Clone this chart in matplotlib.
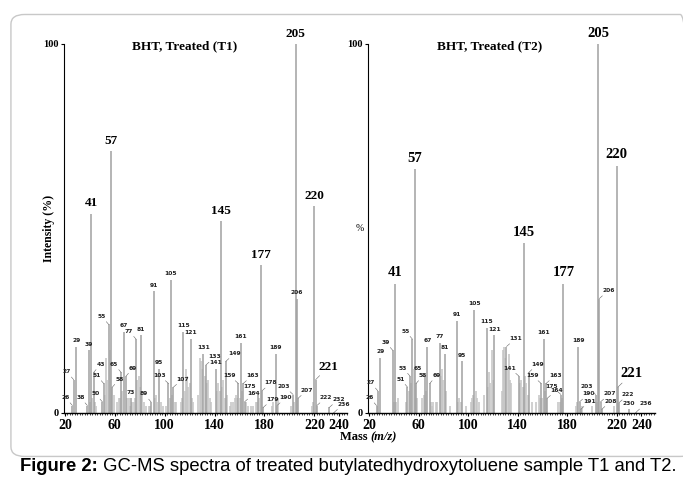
import matplotlib.pyplot as plt
from matplotlib.patches import FancyBboxPatch
from matplotlib.ticker import MultipleLocator

# labelled peaks (m/z, relative intensity %) for each sample
t1_mz = [26, 27, 29, 38, 39, 41, 43, 50, 51, 55, 57, 58, 65, 67, 69, 73, 77, 81,
         89, 91, 95, 103, 105, 107, 115, 121, 131, 133, 141, 145, 149, 159, 161,
         163, 164, 175, 177, 178, 179, 189, 190, 203, 205, 206, 207, 220, 221,
         222, 232, 236]
t1_int = [2, 9, 18, 2, 17, 54, 11, 3, 8, 24, 71, 7, 11, 22, 10, 4, 20, 21,
          3, 33, 12, 8, 36, 7, 22, 20, 16, 13, 12, 52, 14, 8, 19,
          8, 3, 5, 40, 6, 1.5, 16, 2, 5, 100, 31, 4, 56, 9,
          2, 1.5, 0.2]

t2_mz = [26, 27, 29, 39, 41, 51, 53, 55, 57, 58, 65, 67, 69, 77, 81, 91, 95,
         105, 115, 121, 131, 141, 145, 149, 159, 161, 163, 164, 175, 177, 189,
         190, 191, 203, 205, 206, 207, 208, 220, 221, 222, 230, 236]
t2_int = [2, 6, 15, 17, 35, 7, 10, 20, 66, 8, 10, 18, 8, 19, 16, 25, 14,
          28, 23, 21, 18, 10, 46, 11, 8, 20, 8, 4, 5, 35, 18,
          3, 1, 5, 100, 31, 3, 1, 67, 7, 2.8, 1.0, 0.3]

# unlabelled minor peaks
t1_minor_mz = [40, 42, 44, 45, 52, 53, 54, 56, 59, 62, 63, 64, 66, 70, 71, 72,
               74, 75, 76, 78, 79, 80, 82, 83, 85, 87, 88, 92, 93, 94, 97, 99,
               101, 104, 106, 108, 109, 113, 114, 116, 117, 118, 119, 120, 122,
               123, 127, 128, 129, 130, 132, 134, 135, 136, 137, 142, 143, 144,
               146, 147, 148, 150, 152, 153, 155, 156, 157, 158, 160, 162, 165,
               167, 169, 171, 173, 174, 176, 186, 187, 191, 201, 204, 218, 219]
t1_minor_int = [3, 4, 3, 2, 5, 15, 9, 17, 5, 3, 4, 4, 6, 4, 4, 2,
                3, 3, 4, 9, 10, 7, 5, 3, 2, 2, 2, 4, 5, 3, 3, 2,
                2, 4, 5, 3, 3, 3, 4, 6, 12, 10, 7, 8, 4,
                3, 5, 15, 14, 12, 10, 8, 9, 4, 3, 6, 8, 6,
                7, 9, 4, 5, 2, 3, 3, 4, 5, 4, 4, 6, 3,
                2, 2, 2, 3, 3, 4, 2, 3, 4, 2, 3, 2, 3]

t2_minor_mz = [40, 42, 43, 50, 52, 54, 56, 59, 63, 64, 66, 70, 71, 72, 74, 75,
               78, 79, 80, 82, 85, 92, 93, 94, 98, 102, 103, 104, 106, 107, 109,
               113, 116, 117, 118, 119, 120, 127, 128, 129, 130, 132, 133, 134,
               135, 142, 143, 144, 146, 147, 148, 152, 155, 157, 158, 160, 162,
               173, 174, 176, 187, 188, 192, 200, 204, 218]
t2_minor_int = [3, 3, 4, 3, 6, 8, 12, 4, 4, 5, 6, 3, 2, 3, 3, 3,
                10, 12, 9, 6, 2, 3, 4, 3, 2, 3, 4, 5, 6, 4, 3,
                5, 7, 11, 8, 17, 9, 6, 17, 18, 15, 12, 16, 9,
                8, 8, 9, 7, 10, 8, 5, 3, 3, 5, 4, 4, 6,
                3, 3, 4, 2, 3, 2, 2, 3, 2]

big_labels = [41, 57, 145, 177, 205, 220]
# where the small labels sit relative to their peak
t1_above = [29, 39, 67, 73, 81, 91, 95, 105, 115, 121, 131, 141, 161, 189, 206]
t1_right = [43, 58, 69, 107, 133, 149, 163, 164, 178, 179, 190, 207, 221,
            222, 232, 236]
t2_above = [29, 67, 77, 81, 91, 95, 105, 115, 121, 161, 189, 230]
t2_right = [58, 69, 131, 149, 163, 164, 190, 191, 206, 207, 208, 221, 222, 236]

x_ticks = [20, 60, 100, 140, 180, 220, 240]

serif = 'Liberation Serif'
fig = plt.figure(figsize=(6.83, 4.83), dpi=100)

# rounded frame around the figure
fig.patches.append(FancyBboxPatch((0.016, 0.055), 1.0, 0.915,
                                  boxstyle='round,pad=0,rounding_size=0.02',
                                  transform=fig.transFigure, fc='none',
                                  ec='#c8c8c8', lw=1.0))

leader = dict(arrowstyle='-', lw=0.4, color='#666666', shrinkA=0, shrinkB=0)
small = dict(fontsize=4.3, fontweight='bold', color='#222222')


def draw_panel(ax, mz, inten, minor_mz, minor_int, above, right_side,
               title, big_fs, pct=False):
    ax.vlines(minor_mz, 0, minor_int, color='#c4c4c4', lw=1.1)
    ax.vlines(mz, 0, inten, color='#a0a0a0', lw=1.1)
    for m, h in zip(mz, inten):
        if m in big_labels:
            ax.text(m, h + 1.2, str(m), ha='center', va='bottom', fontsize=big_fs,
                    fontweight='bold', family=serif, clip_on=False)
        elif m == 221:
            ax.annotate(str(m), xy=(m, h), xytext=(2, 5), textcoords='offset points',
                        ha='left', va='bottom', fontsize=big_fs,
                        fontweight='bold', family=serif, arrowprops=leader)
        elif m in above:
            ax.text(m, h + 1.0, str(m), ha='center', va='bottom', **small)
        elif m in right_side:
            ax.annotate(str(m), xy=(m, h), xytext=(2, 4), textcoords='offset points',
                        ha='left', va='bottom', arrowprops=leader, **small)
        else:
            ax.annotate(str(m), xy=(m, h), xytext=(-2, 4), textcoords='offset points',
                        ha='right', va='bottom', arrowprops=leader, **small)
    ax.set_ylim(0, 100)
    ax.spines['top'].set_visible(False)
    ax.spines['right'].set_visible(False)
    ax.spines['left'].set_linewidth(0.8)
    ax.spines['bottom'].set_linewidth(1.0)
    ax.set_xticks(x_ticks)
    ax.set_xticklabels([str(t) for t in x_ticks], fontsize=10, fontweight='bold',
                       family=serif)
    ax.xaxis.set_minor_locator(MultipleLocator(2))
    ax.tick_params(axis='x', which='major', length=2, pad=2)
    ax.tick_params(axis='x', which='minor', length=1.5, width=0.5)
    ax.set_yticks([0, 100])
    ax.set_yticklabels(['0', '100'], fontsize=7.5, fontweight='bold', family=serif)
    ax.tick_params(axis='y', length=2, pad=2)
    if pct:
        ax.text(-0.015, 0.5, '%', transform=ax.transAxes, ha='right',
                va='center', fontsize=7, family=serif)
    ax.text(0.425, 0.995, title, transform=ax.transAxes, ha='center',
            va='center', fontsize=9.5, fontweight='bold', family=serif)


ax1 = fig.add_axes([0.0937, 0.145, 0.414, 0.764])
ax1.set_xlim(19.2, 246)
draw_panel(ax1, t1_mz, t1_int, t1_minor_mz, t1_minor_int, t1_above, t1_right,
           'BHT, Treated (T1)', 9.5)
ax1.text(-0.053, 0.5, 'Intensity (%)', transform=ax1.transAxes, rotation=90,
         ha='center', va='center', fontsize=8.5, fontweight='bold', family=serif)

ax2 = fig.add_axes([0.539, 0.145, 0.420, 0.764])
ax2.set_xlim(19.2, 251)
draw_panel(ax2, t2_mz, t2_int, t2_minor_mz, t2_minor_int, t2_above, t2_right,
           'BHT, Treated (T2)', 10.5, pct=True)

fig.text(0.542, 0.095, 'Mass ', ha='right', va='center', fontsize=9,
         fontweight='bold', family=serif)
fig.text(0.542, 0.095, '(m/z)', ha='left', va='center', fontsize=9,
         fontweight='bold', style='italic', family=serif)

cap = fig.text(0.029, 0.035, 'Figure 2:', ha='left', va='center', fontsize=13.3,
               fontweight='bold', family='Liberation Sans')
ax1.annotate(' GC-MS spectra of treated butylatedhydroxytoluene sample T1 and T2.',
             xy=(1, 0.5), xycoords=cap, ha='left', va='center', fontsize=13.3,
             family='Liberation Sans', annotation_clip=False)

plt.savefig('out.png', dpi=100)
plt.close()
